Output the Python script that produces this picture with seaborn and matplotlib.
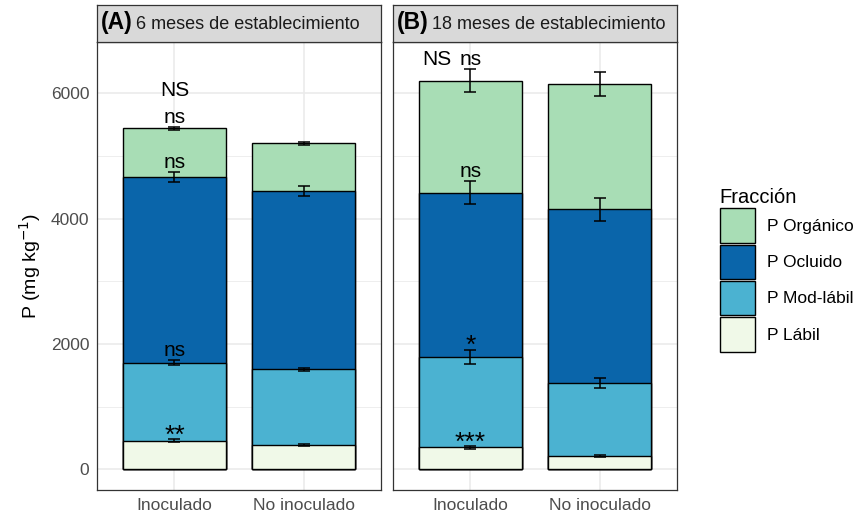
import matplotlib
matplotlib.use("Agg")
import pandas as pd
import matplotlib.pyplot as plt
from matplotlib.patches import Patch
import seaborn as sns

FRACTIONS = ["P Lábil", "P Mod-lábil", "P Ocluido", "P Orgánico"]
CONDITIONS = ["Inoculado", "No inoculado"]
PANELS = ["6 meses de establecimiento", "18 meses de establecimiento"]
PANEL_TAGS = ["(A)", "(B)"]
COLORS = ["#F0F9E8", "#4BB2D1", "#0A65AA", "#A8DDB5"]

# mean of each fraction (mg kg-1), same order as FRACTIONS
mean_6m_inoc = [456, 1245, 2968, 771]
mean_6m_noinoc = [393, 1203, 2845, 761]
mean_18m_inoc = [351, 1446, 2617, 1787]
mean_18m_noinoc = [217, 1165, 2767, 1995]

# standard error of each fraction
se_6m_inoc = [25, 40, 80, 25]
se_6m_noinoc = [15, 20, 77, 25]
se_18m_inoc = [20, 112, 186, 180]
se_18m_noinoc = [15, 80, 186, 190]

# significance Inoculado vs No inoculado (per fraction, then total P)
sig_6m = ["**", "ns", "ns", "ns"]
sig_18m = ["***", "*", "ns", "ns"]
sig_total = ["NS", "NS"]


def build_frame():
    rows = []
    series = {
        (PANELS[0], CONDITIONS[0]): (mean_6m_inoc, se_6m_inoc),
        (PANELS[0], CONDITIONS[1]): (mean_6m_noinoc, se_6m_noinoc),
        (PANELS[1], CONDITIONS[0]): (mean_18m_inoc, se_18m_inoc),
        (PANELS[1], CONDITIONS[1]): (mean_18m_noinoc, se_18m_noinoc),
    }
    for (panel, cond), (means, ses) in series.items():
        for frac, m, s in zip(FRACTIONS, means, ses):
            rows.append({"Panel": panel, "Condicion": cond, "Fraccion": frac,
                         "P": m, "se": s})
    df = pd.DataFrame(rows)
    df["cum"] = df.groupby(["Panel", "Condicion"])["P"].cumsum()
    return df


df = build_frame()

sns.set_theme(style="white")
plt.rcParams["font.family"] = ["Liberation Sans", "DejaVu Sans"]

W, H = 856, 520
fig = plt.figure(figsize=(W / 100, H / 100), dpi=100)
panel_left = [97, 393]
panel_w = 284
panel_top, panel_bottom = 42, 490
strip_top = 5

border = "#333333"
tick_col = "#4D4D4D"

for i, panel in enumerate(PANELS):
    ax = fig.add_axes([panel_left[i] / W, 1 - panel_bottom / H,
                       panel_w / W, (panel_bottom - panel_top) / H])
    sub = df[df["Panel"] == panel]

    # stacked bars: draw cumulative totals from the top fraction down
    for frac, col in reversed(list(zip(FRACTIONS, COLORS))):
        part = sub[sub["Fraccion"] == frac]
        sns.barplot(data=part, x="Condicion", y="cum", order=CONDITIONS,
                    color=col, saturation=1, edgecolor="black", linewidth=1.0,
                    width=0.8, errorbar=None, ax=ax, zorder=2)

    for frac in FRACTIONS:
        part = sub[sub["Fraccion"] == frac].set_index("Condicion").loc[CONDITIONS]
        ax.errorbar(x=range(len(CONDITIONS)), y=part["cum"], yerr=part["se"],
                    fmt="none", ecolor="black", elinewidth=1.1, capsize=4.3,
                    capthick=1.1, zorder=5)

    # significance labels above the Inoculado bar
    sigs = sig_6m if i == 0 else sig_18m
    inoc = sub[sub["Condicion"] == CONDITIONS[0]].reset_index(drop=True)
    for k, lab in enumerate(sigs):
        top = inoc.loc[k, "cum"] + inoc.loc[k, "se"]
        if lab.startswith("*"):
            ax.annotate(lab, xy=(0, top), xytext=(0, -6), textcoords="offset points",
                        ha="center", va="bottom", fontsize=19, color="black", zorder=6)
        else:
            ax.annotate(lab, xy=(0, top), xytext=(0, 0), textcoords="offset points",
                        ha="center", va="bottom", fontsize=15, color="black", zorder=6)
    top = inoc["cum"].iloc[-1] + inoc["se"].iloc[-1]
    off = (0, 19) if i == 0 else (-24, 0)
    ax.annotate(sig_total[i], xy=(0, top), xytext=off, textcoords="offset points",
                ha="center", va="bottom", fontsize=15, color="black", zorder=6)

    ax.set_xlim(-0.6, 1.6)
    ax.set_ylim(-330, 6819)
    ax.set_yticks([0, 2000, 4000, 6000])
    ax.set_yticks([1000, 3000, 5000], minor=True)
    ax.set_axisbelow(True)
    ax.grid(which="major", color="#EBEBEB", lw=1.2)
    ax.grid(which="minor", axis="y", color="#EBEBEB", lw=0.6)
    ax.xaxis.grid(True, which="major", color="#EBEBEB", lw=1.2)
    ax.set_xlabel("")
    ax.set_ylabel("")
    for sp in ax.spines.values():
        sp.set_color(border)
        sp.set_linewidth(0.9)
    ax.tick_params(which="major", length=3, width=1, color=border,
                   labelcolor=tick_col, labelsize=12.5, pad=2.5)
    ax.tick_params(which="minor", length=0)
    if i == 0:
        ax.set_ylabel("P (mg kg$^{-1}$)", fontsize=14, labelpad=6, color="black")
    else:
        ax.tick_params(axis="y", left=False, labelleft=False)

    # facet strip
    sax = fig.add_axes([panel_left[i] / W, 1 - panel_top / H,
                        panel_w / W, (panel_top - strip_top) / H])
    sax.set_facecolor("#D9D9D9")
    sax.set_xticks([])
    sax.set_yticks([])
    for sp in sax.spines.values():
        sp.set_color(border)
        sp.set_linewidth(0.9)
    t1 = sax.text(0.015, 0.34, PANEL_TAGS[i], transform=sax.transAxes,
                  fontsize=16.5, fontweight="bold", va="baseline", ha="left",
                  color="black")
    fig.canvas.draw()
    bb = t1.get_window_extent(fig.canvas.get_renderer())
    x1 = sax.transAxes.inverted().transform((bb.x1, bb.y0))[0]
    sax.text(x1 + 0.012, 0.34, PANELS[i], transform=sax.transAxes,
             fontsize=13, va="baseline", ha="left", color="#1A1A1A")

handles = [Patch(facecolor=c, edgecolor="black", lw=1, label=f)
           for f, c in reversed(list(zip(FRACTIONS, COLORS)))]
leg = fig.legend(handles=handles, loc="upper left",
                 bbox_to_anchor=(711 / W, 1 - 179 / H),
                 frameon=False, title="Fracción", fontsize=12.5, title_fontsize=14.5,
                 handlelength=2.05, handleheight=2.68, labelspacing=0.1,
                 handletextpad=0.7, borderpad=0, alignment="left")
leg.get_title().set_color("black")
for t in leg.get_texts():
    t.set_color("black")

fig.savefig("out.png", dpi=100)
